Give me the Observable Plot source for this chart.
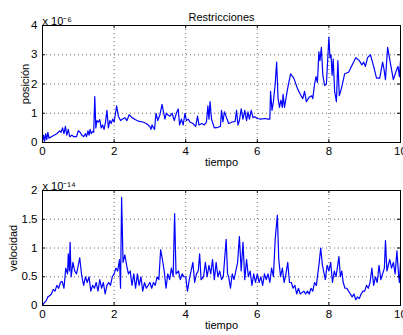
<!DOCTYPE html>
<html><head><meta charset="utf-8">
<script src="https://cdn.jsdelivr.net/npm/d3@7"></script>
<script src="https://cdn.jsdelivr.net/npm/@observablehq/plot@0.6"></script>
<style>
html,body{margin:0;padding:0;background:#fff;}
#chart{position:relative;width:403px;height:335px;overflow:hidden;font-family:"Liberation Sans",Arial,sans-serif;}
#chart svg{position:absolute;left:0;overflow:visible;}
</style></head>
<body><div id="chart"></div>
<script>
const title = "Restricciones";
const xLabel = "tiempo";
const posLabel = "posición";
const velLabel = "velocidad";
const posExp = "x 10⁻⁶";
const velExp = "x 10⁻¹⁴";
const xTicks = [0, 2, 4, 6, 8, 10];
const posTicks = [0, 1, 2, 3, 4];
const velTicks = [0, 0.5, 1, 1.5, 2];

const tPos = [0,0.03,0.06,0.09,0.12,0.15,0.18,0.25,0.32,0.4,0.48,0.52,0.56,0.6,0.64,0.68,0.72,0.76,0.82,0.88,0.95,1.0,1.05,1.1,1.15,1.2,1.23,1.27,1.3,1.33,1.36,1.4,1.43,1.46,1.49,1.52,1.56,1.6,1.64,1.68,1.72,1.76,1.8,1.84,1.88,1.92,1.96,2.0,2.04,2.07,2.12,2.18,2.24,2.3,2.36,2.42,2.5,2.6,2.7,2.8,2.9,2.95,3.0,3.03,3.06,3.1,3.13,3.17,3.22,3.28,3.34,3.38,3.42,3.46,3.5,3.56,3.62,3.68,3.74,3.79,3.83,3.88,3.93,3.98,4.02,4.07,4.12,4.2,4.28,4.33,4.37,4.45,4.52,4.58,4.62,4.65,4.68,4.72,4.76,4.8,4.9,4.97,5.0,5.04,5.08,5.14,5.2,5.3,5.38,5.42,5.46,5.5,5.55,5.6,5.65,5.7,5.74,5.78,5.83,5.88,5.93,6.0,6.1,6.2,6.3,6.35,6.37,6.41,6.45,6.5,6.54,6.58,6.62,6.66,6.7,6.72,6.76,6.84,6.93,7.02,7.12,7.2,7.27,7.32,7.37,7.45,7.52,7.55,7.6,7.64,7.68,7.72,7.75,7.79,7.83,7.88,7.93,8.0,8.03,8.06,8.09,8.12,8.16,8.21,8.25,8.29,8.35,8.44,8.55,8.65,8.75,8.85,8.92,8.97,9.02,9.08,9.16,9.25,9.33,9.42,9.5,9.54,9.58,9.64,9.72,9.8,9.88,9.93,9.97,10.0];
const posValues = [0,0.25,0.05,0.3,0.1,0.35,0.15,0.2,0.25,0.3,0.4,0.35,0.5,0.3,0.55,0.25,0.45,0.2,0.25,0.2,0.2,0.4,0.35,0.25,0.2,0.3,0.2,0.4,0.25,0.45,0.3,0.38,0.35,1.57,0.5,0.75,0.7,0.78,0.5,0.6,0.45,0.7,1.1,0.5,0.75,0.65,0.8,0.7,1.0,1.25,0.9,0.75,0.8,0.85,0.75,0.95,0.85,0.78,0.72,0.7,0.65,0.6,0.55,0.45,0.6,0.5,0.45,1.0,0.75,0.95,1.3,1.05,0.8,1.0,0.95,0.9,1.0,0.75,1.0,1.15,0.6,0.8,0.6,1.0,0.75,0.8,0.7,0.65,0.55,0.9,0.6,0.65,0.6,0.7,1.25,0.8,1.4,0.8,0.65,0.5,0.52,0.55,1.1,0.7,1.05,0.85,0.65,0.7,0.72,1.1,0.6,0.75,1.15,0.8,1.1,0.75,1.05,0.8,1.1,0.85,0.88,0.82,0.8,0.82,0.8,0.8,1.75,1.1,1.4,2.0,2.75,1.5,1.2,1.45,1.2,1.65,1.2,1.8,2.35,2.2,1.85,1.65,1.5,1.75,1.4,1.55,1.6,1.5,2.0,2.25,2.05,3.1,2.8,3.25,2.3,1.95,2.0,3.6,2.9,3.0,2.3,2.85,1.75,1.4,2.8,1.6,1.85,2.35,2.4,2.65,2.9,2.8,2.65,2.75,2.6,2.9,3.0,2.6,2.2,2.2,2.75,2.5,2.15,3.25,2.7,2.15,2.45,2.6,2.25,2.8];

const tVel = [0,0.05,0.1,0.15,0.2,0.25,0.3,0.35,0.4,0.45,0.5,0.55,0.6,0.65,0.7,0.72,0.75,0.77,0.8,0.85,0.9,0.95,1.0,1.04,1.08,1.1,1.15,1.2,1.25,1.3,1.35,1.4,1.45,1.5,1.55,1.6,1.65,1.7,1.75,1.8,1.85,1.9,1.95,2.0,2.05,2.1,2.15,2.18,2.21,2.25,2.3,2.35,2.4,2.45,2.5,2.55,2.6,2.65,2.7,2.75,2.8,2.85,2.9,3.0,3.05,3.1,3.15,3.2,3.25,3.3,3.35,3.4,3.45,3.5,3.55,3.6,3.65,3.69,3.73,3.8,3.85,3.9,3.95,4.0,4.05,4.1,4.15,4.2,4.25,4.3,4.35,4.39,4.43,4.5,4.55,4.6,4.65,4.7,4.75,4.8,4.85,4.9,4.95,5.0,5.05,5.13,5.17,5.2,5.25,5.3,5.35,5.4,5.45,5.5,5.55,5.6,5.65,5.7,5.75,5.8,5.85,5.9,5.95,6.0,6.05,6.1,6.15,6.2,6.25,6.3,6.35,6.4,6.45,6.5,6.56,6.6,6.65,6.7,6.75,6.8,6.85,6.9,6.95,7.0,7.05,7.1,7.15,7.2,7.3,7.35,7.4,7.45,7.5,7.55,7.6,7.65,7.7,7.73,7.77,7.82,7.9,7.95,8.0,8.05,8.1,8.15,8.2,8.28,8.32,8.36,8.4,8.45,8.5,8.55,8.6,8.65,8.7,8.75,8.8,8.85,8.9,8.95,9.0,9.05,9.1,9.15,9.2,9.25,9.3,9.35,9.4,9.45,9.5,9.55,9.58,9.62,9.7,9.75,9.8,9.85,9.9,9.95,9.97,10.0];
const velValues = [0,0.05,0.08,0.15,0.17,0.2,0.28,0.25,0.35,0.3,0.4,0.42,0.3,0.65,0.55,0.9,0.6,1.1,0.5,0.75,0.6,0.55,0.7,0.83,0.6,0.5,0.35,0.5,0.4,0.5,0.25,0.35,0.3,0.4,0.25,0.45,0.3,0.4,0.2,0.35,0.4,0.35,0.5,0.55,0.65,0.6,0.8,0.3,1.88,0.75,0.88,0.7,0.55,0.6,0.35,0.55,0.3,0.55,0.35,0.5,0.25,0.4,0.3,0.4,0.3,0.4,0.35,0.5,0.45,0.97,0.8,0.6,0.3,0.55,0.45,0.65,0.5,1.6,0.55,0.6,0.45,0.55,0.5,0.5,0.25,0.45,0.6,0.75,0.4,0.55,0.6,0.9,0.45,0.5,0.75,0.5,0.7,0.55,0.8,0.45,0.75,0.5,0.6,0.45,0.5,1.15,0.55,0.5,0.3,0.55,0.45,0.6,0.75,1.2,0.6,1.1,0.45,0.8,0.5,0.6,0.35,0.55,0.4,0.55,0.4,0.5,0.35,0.55,0.45,0.55,0.4,0.65,0.5,1.15,1.57,0.8,0.5,0.65,0.4,0.55,0.75,0.4,0.4,0.3,0.35,0.2,0.3,0.2,0.25,0.2,0.25,0.2,0.3,0.25,0.4,0.35,0.6,0.75,1.0,0.7,0.45,0.7,0.6,0.75,0.4,0.6,0.5,0.85,0.5,0.6,0.4,0.3,0.3,0.25,0.2,0.15,0.2,0.1,0.15,0.12,0.2,0.25,0.25,0.35,0.3,0.4,0.65,0.35,0.5,0.4,0.7,0.45,0.55,0.65,1.13,0.6,0.8,0.65,0.75,0.55,0.95,0.5,0.4,0.75];

const posData = tPos.map((t, i) => ({t, v: posValues[i]}));
const velData = tVel.map((t, i) => ({t, v: velValues[i]}));

function panel({data, yTicks, yDomain, yLabel, labelDx, exp, height, mt, mb, titleText}) {
  const innerH = height - mt - mb;
  const innerW = 403 - 42 - 3;
  const marks = [
    Plot.gridX(xTicks.slice(1, -1), {stroke: "#444", strokeOpacity: 1, strokeWidth: 0.8, strokeDasharray: "1,3"}),
    Plot.gridY(yTicks.slice(1, -1), {stroke: "#444", strokeOpacity: 1, strokeWidth: 0.8, strokeDasharray: "1,3"}),
    Plot.line(data, {x: "t", y: "v", stroke: "#0000ff", strokeWidth: 1.2}),
    Plot.tickX(xTicks, {x: d => d, insetTop: innerH - 3, stroke: "#000"}),
    Plot.tickX(xTicks, {x: d => d, insetBottom: innerH - 3, stroke: "#000"}),
    Plot.tickY(yTicks, {y: d => d, insetRight: innerW - 3, stroke: "#000"}),
    Plot.tickY(yTicks, {y: d => d, insetLeft: innerW - 3, stroke: "#000"}),
    Plot.frame({stroke: "#000", strokeWidth: 1}),
    Plot.axisX(xTicks, {tickSize: 0, tickPadding: 4, fontSize: 11.5, label: null}),
    Plot.axisY(yTicks, {tickSize: 0, tickPadding: 5, fontSize: 11.5, label: null, tickFormat: d => String(d)}),
    Plot.text([xLabel], {frameAnchor: "bottom", dy: 23, fontSize: 11, fill: "#000"}),
    Plot.text([yLabel], {frameAnchor: "left", dx: labelDx, rotate: -90, textAnchor: "middle", lineAnchor: "middle", fontSize: 11, fill: "#000"}),
    Plot.text([exp], {frameAnchor: "top-left", dy: -8, textAnchor: "start", fontSize: 11, fill: "#000"})
  ];
  if (titleText) marks.push(Plot.text([titleText], {frameAnchor: "top", dy: -12, fontSize: 11, fill: "#000"}));
  return Plot.plot({
    width: 403, height,
    marginLeft: 42, marginRight: 3, marginTop: mt, marginBottom: mb,
    style: {fontFamily: "'Liberation Sans', Arial, sans-serif", fontSize: "11px", color: "#000", background: "transparent", overflow: "visible"},
    x: {domain: [0, 10]},
    y: {domain: yDomain},
    marks
  });
}

const topPanel = panel({data: posData, yTicks: posTicks, yDomain: [0, 4], yLabel: posLabel, labelDx: -17, exp: posExp, height: 170, mt: 25, mb: 28, titleText: title});
const botPanel = panel({data: velData, yTicks: velTicks, yDomain: [0, 2], yLabel: velLabel, labelDx: -29, exp: velExp, height: 165, mt: 20, mb: 30});
topPanel.style.top = "0px";
botPanel.style.top = "170px";
document.getElementById("chart").append(topPanel, botPanel);
</script></body></html>
